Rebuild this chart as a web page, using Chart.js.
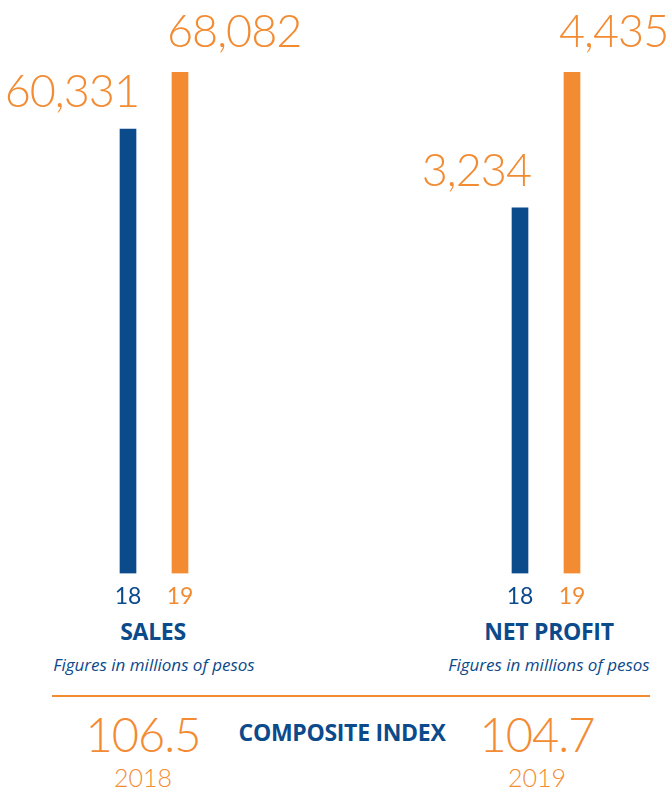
<!DOCTYPE html>
<html>
<head>
<meta charset="utf-8">
<script src="https://cdn.jsdelivr.net/npm/chart.js@4"></script>
<style>
  body { margin: 0; background: #fff; width: 670px; height: 793px; position: relative; overflow: hidden; font-family: 'Lato', sans-serif; }
  canvas { position: absolute; top: 0; }
  .t { position: absolute; white-space: nowrap; transform: translateX(-50%); line-height: 1; }
  .title { font-family: 'Open Sans', sans-serif; font-weight: 700; font-size: 23px; color: #0b4a8b; letter-spacing: -0.3px; }
  .sub { font-family: 'Open Sans', sans-serif; font-style: italic; font-size: 17px; color: #0b4a8b; }
  .big { font-weight: 300; font-size: 47px; color: #f28b32; letter-spacing: -1px; }
  .yr { font-weight: 300; font-size: 25px; color: #f28b32; }
  .rule { position: absolute; left: 52px; width: 598px; top: 695px; height: 2px; background: #f28b32; }
</style>
</head>
<body>
<canvas id="sales" width="335" height="611" style="left:0"></canvas>
<canvas id="profit" width="335" height="611" style="left:335px"></canvas>

<div class="t title" style="left:153px; top:620px">SALES</div>
<div class="t sub" style="left:154px; top:656px">Figures in millions of pesos</div>
<div class="t title" style="left:549px; top:620px">NET PROFIT</div>
<div class="t sub" style="left:549px; top:656px">Figures in millions of pesos</div>

<div class="rule"></div>
<div id="bottom"></div>

<script>
const years = ['18', '19'];
const salesValues = [60331, 68082];
const profitValues = [3234, 4435];
const indexYears = ['2018', '2019'];
const indexValues = [106.5, 104.7];

const BLUE = '#0b4a8b';
const ORANGE = '#f28b32';
const barColors = [BLUE, ORANGE];

const valueLabels = {
  id: 'valueLabels',
  afterDatasetsDraw(chart) {
    const ctx = chart.ctx;
    const meta = chart.getDatasetMeta(0);
    ctx.save();
    ctx.font = '300 45px Lato';
    ctx.fillStyle = ORANGE;
    ctx.textBaseline = 'alphabetic';
    if ('letterSpacing' in ctx) ctx.letterSpacing = '-1px';
    meta.data.forEach((bar, i) => {
      const v = chart.data.datasets[0].data[i];
      const txt = v.toLocaleString('en-US');
      if (i === 0) {
        ctx.textAlign = 'right';
        ctx.fillText(txt, bar.x + bar.width / 2 + 3, bar.y - 22);
      } else {
        ctx.textAlign = 'left';
        ctx.fillText(txt, bar.x - bar.width / 2 - 5, bar.y - 25);
      }
    });
    ctx.restore();
  }
};

function makeChart(id, values, padLeft, padRight) {
  return new Chart(document.getElementById(id), {
    type: 'bar',
    data: {
      labels: years,
      datasets: [{ data: values, backgroundColor: barColors, barThickness: 16 }],
    },
    options: {
      responsive: false,
      animation: false,
      layout: { padding: { left: padLeft, right: padRight, top: 72, bottom: 0 } },
      scales: {
        x: {
          grid: { display: false },
          border: { display: false },
          ticks: { color: c => barColors[c.index], font: { family: 'Lato', size: 23, weight: 400 }, padding: 1 },
        },
        y: { display: false, min: 0, max: Math.max(...values) },
      },
      plugins: { legend: { display: false }, tooltip: { enabled: false } },
    },
    plugins: [valueLabels],
  });
}

makeChart('sales', salesValues, 102, 129);
makeChart('profit', profitValues, 159, 72);

// composite index row
const bottom = document.getElementById('bottom');
const cols = [143, 537];
indexValues.forEach((v, i) => {
  bottom.insertAdjacentHTML('beforeend',
    `<div class="t big" style="left:${cols[i]}px; top:711px">${v.toFixed(1)}</div>` +
    `<div class="t yr" style="left:${cols[i]}px; top:765px">${indexYears[i]}</div>`);
});
bottom.insertAdjacentHTML('beforeend',
  '<div class="t title" style="left:342px; top:721px">COMPOSITE INDEX</div>');
</script>
</body>
</html>
